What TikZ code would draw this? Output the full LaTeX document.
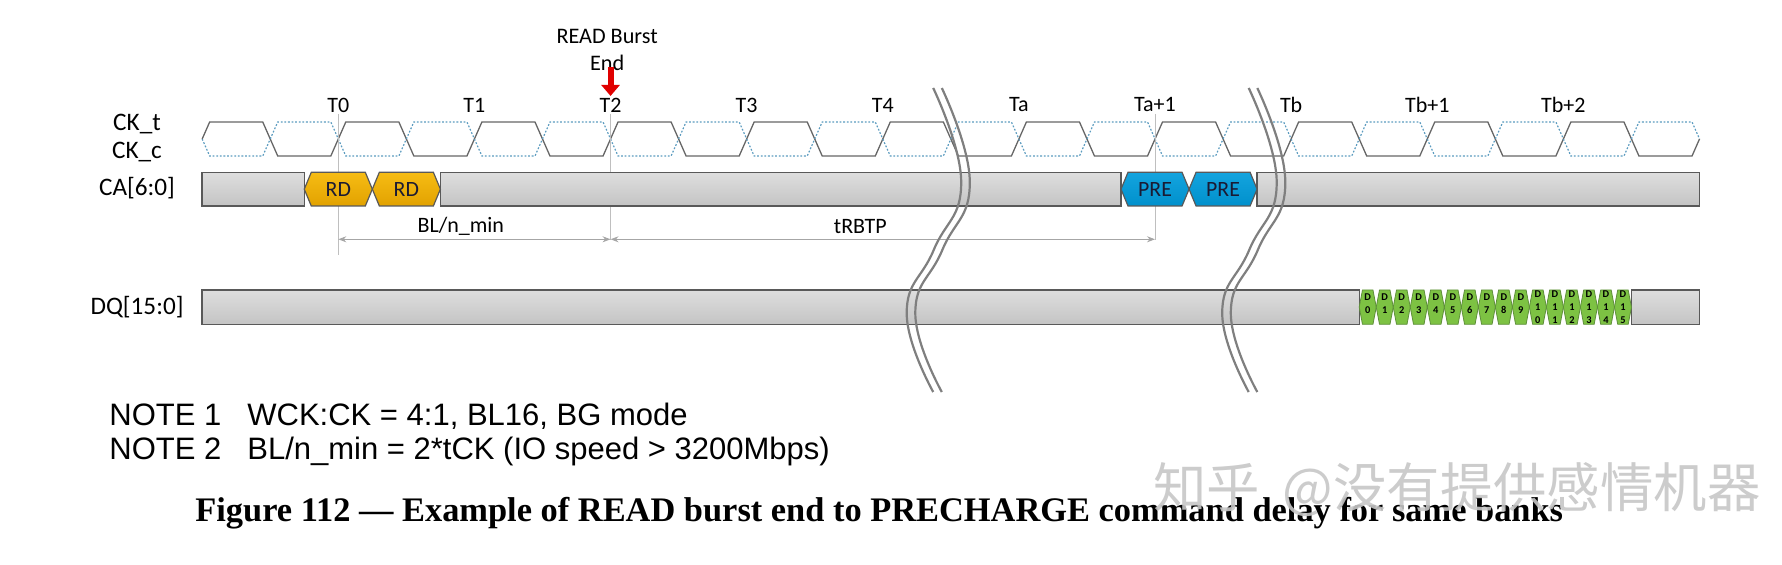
\documentclass[tikz,border=0pt]{standalone}
\usepackage{fontspec}
\setmainfont{Carlito}
\newfontfamily\notefont{Liberation Sans}
\newfontfamily\capfont{Liberation Serif}
\newfontfamily\cjkfont{Noto Sans CJK SC}
\usetikzlibrary{positioning, arrows.meta}
\definecolor{clkline}{HTML}{666666}
\definecolor{clkdash}{HTML}{5B9BBF}
\definecolor{barline}{HTML}{595959}
\definecolor{bartop}{HTML}{DEDEDE}
\definecolor{barbot}{HTML}{C4C4C4}
\definecolor{rdtop}{HTML}{F6BC14}
\definecolor{rdbot}{HTML}{E2A200}
\definecolor{pretop}{HTML}{14A4DE}
\definecolor{prebot}{HTML}{0090CC}
\definecolor{dqfill}{HTML}{7DC243}
\definecolor{dqline}{HTML}{5E8F3A}
\definecolor{cmdtext}{HTML}{1A1A33}
\definecolor{gridline}{HTML}{BFBFBF}
\definecolor{dimline}{HTML}{A6A6A6}
\definecolor{brkline}{HTML}{7F7F7F}
\definecolor{burstred}{HTML}{E00000}
\tikzset{
  >={Stealth[length=4pt, width=3pt]},
  clkt/.style={draw=clkline, line width=0.65pt},
  clkc/.style={draw=clkdash, line width=0.6pt, dash pattern=on 0.9pt off 0.9pt},
  bus/.style={draw=barline, line width=0.7pt, top color=bartop, bottom color=barbot},
  rdcmd/.style={draw=barline, line width=0.6pt, top color=rdtop, bottom color=rdbot},
  precmd/.style={draw=barline, line width=0.6pt, top color=pretop, bottom color=prebot},
  dqbeat/.style={draw=dqline, line width=0.4pt, fill=dqfill},
  sig/.style={inner sep=0pt, font=\fontsize{12.6}{15}\selectfont},
  burstlbl/.style={inner sep=0pt, align=center, font=\fontsize{11.1}{13.3}\selectfont},
  tlabel/.style={inner sep=0pt, font=\fontsize{11}{13}\selectfont},
  cmdtxt/.style={inner sep=0pt, text=cmdtext, font=\fontsize{10.9}{12}\selectfont},
  beattxt/.style={inner sep=0pt, align=center, font=\bfseries\fontsize{5.2}{6.6}\selectfont},
  gridln/.style={draw=gridline, line width=0.4pt},
  dimln/.style={draw=dimline, line width=0.45pt, <->},
  burst/.style={draw=burstred, line width=3pt, -{Triangle[width=9pt, length=5.5pt]}},
  brk/.style={draw=brkline, line width=1.1pt},
  note/.style={inner sep=0pt, anchor=base west, font=\notefont\fontsize{15.5}{18}\selectfont},
  capline/.style={inner sep=0pt, anchor=base west, font=\capfont\bfseries\fontsize{17.2}{20}\selectfont},
  wmark/.style={inner sep=0pt, anchor=west, text=gray!45, opacity=0.9, font=\cjkfont\fontsize{26.7}{30}\selectfont},
}

\begin{document}
\begin{tikzpicture}[x=0.5pt, y=-0.5pt]
  \useasboundingbox (0,0) rectangle (1782,565);

  \node[sig] (ckt) at (137,124) {CK\_t};
  \node[sig] (ckc) at (137,152) {CK\_c};
  \node[sig] (ca) at (137,188) {CA[6:0]};
  \node[sig] (dq) at (137,307) {DQ[15:0]};

  \begin{scope}[shift={(338.3,0)}, x=34.03pt]
    \foreach \i in {-2,...,19}{
      \ifodd\i
        \draw[clkt] (\i,139) -- ++(0.11,17) -- (\i+0.89,156) -- (\i+1,139);
        \draw[clkc] (\i,139) -- ++(0.11,-17) -- (\i+0.89,122) -- (\i+1,139);
      \else
        \draw[clkc] (\i,139) -- ++(0.11,17) -- (\i+0.89,156) -- (\i+1,139);
        \draw[clkt] (\i,139) -- ++(0.11,-17) -- (\i+0.89,122) -- (\i+1,139);
      \fi
    }
    \foreach \n/\t in {0/T0, 2/T1, 4/T2, 6/T3, 8/T4, 10/Ta, 12/Ta+1, 14/Tb, 16/Tb+1, 18/Tb+2}
      \node[tlabel] (t\n) at (\n,105) {\t};

    \draw[gridln] (0,114) -- (0,255);
    \draw[gridln] (4,114) -- (4,240);
    \draw[gridln] (12,114) -- (12,240);

    \draw[bus] (-2,172.3) rectangle (-0.5,206);
    \draw[bus] (1.5,172.3) rectangle (11.5,206);
    \draw[bus] (13.5,172.3) rectangle (20,206);
    \foreach \c/\t/\s [count=\k] in {0/RD/rdcmd, 1/RD/rdcmd, 12/PRE/precmd, 13/PRE/precmd}{
      \draw[\s] (\c-0.5,189.15) -- (\c-0.397,172.3) -- (\c+0.397,172.3) -- (\c+0.5,189.15)
        -- (\c+0.397,206) -- (\c-0.397,206) -- cycle;
      \node[cmdtxt] (cmd\k) at (\c,189.5) {\t};
    }

    \draw[bus] (-2,290) rectangle (15,324.3);
    \draw[bus] (19,290) rectangle (20,324.3);
    \foreach \j in {0,...,15}{
      \pgfmathsetmacro\bx{15.125+\j*0.25}
      \draw[dqbeat] (\bx-0.125,307.15) -- (\bx-0.077,290) -- (\bx+0.077,290) -- (\bx+0.125,307.15)
        -- (\bx+0.077,324.3) -- (\bx-0.077,324.3) -- cycle;
      \ifnum\j<10
        \node[beattxt] (d\j) at (\bx,304) {D\\\j};
      \else
        \pgfmathtruncatemacro\u{\j-10}
        \node[beattxt] (d\j) at (\bx,307) {D\\1\\\u};
      \fi
    }

    \coordinate (bl0) at (0,239.3);
    \coordinate (bl1) at (4,239.3);
    \coordinate (rb1) at (12,239.3);
    \draw[dimln] (bl0) -- (bl1);
    \draw[dimln] (bl1) -- (rb1);
    \node[tlabel] (bln) at (1.8,226.7) {BL/n\_min};
    \node[tlabel] (rbtp) at (7.67,226.7) {tRBTP};

    \node[burstlbl] (rbe) at (3.95,50) {READ Burst\\End};
    \coordinate (rbtip) at (4,96);
    \draw[burst] (rbe.south -| rbtip) ++(0,-4) -- (rbtip);
  \end{scope}

  \foreach \bx in {0,315.5}{
    \foreach \off in {0,8.6}{
      \draw[brk] plot[smooth, tension=0.8] coordinates {(933.2+\bx+\off,88) (961.2+\bx+\off,182)
        (933.7+\bx+\off,250) (906.7+\bx+\off,313) (933.2+\bx+\off,392)};
    }
  }

  \node[note] (n1) at (109,426) {NOTE 1};
  \node[note] (n1t) at (247,426) {WCK:CK = 4:1, BL16, BG mode};
  \node[note] (n2) at (109,460) {NOTE 2};
  \node[note] (n2t) at (247,460) {BL/n\_min = 2*tCK (IO speed > 3200Mbps)};
  \node[capline] (cap) at (195,522) {Figure 112 — Example of READ burst end to PRECHARGE command delay for same banks};
  \node[wmark] (mark) at (1153,490) {知乎 \hspace{0.2em}@没有提供感情机器};
\end{tikzpicture}
\end{document}
